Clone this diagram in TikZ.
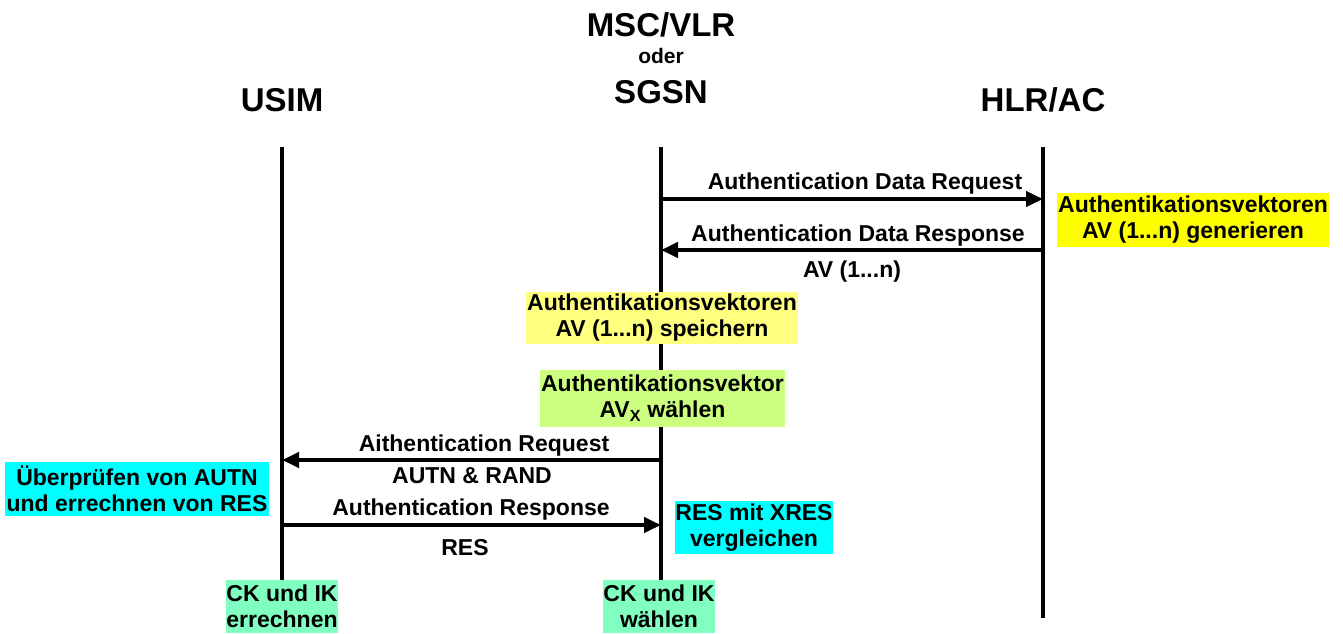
\documentclass[tikz,border=0pt]{standalone}
\usepackage{fontspec}
\setmainfont{Liberation Sans}
\usetikzlibrary{arrows.meta}
\definecolor{genyellow}{RGB}{255,255,0}
\definecolor{storeyellow}{RGB}{255,255,128}
\definecolor{selgreen}{RGB}{204,255,128}
\definecolor{boxcyan}{RGB}{0,255,255}
\definecolor{mint}{RGB}{128,255,192}
\begin{document}
\begin{tikzpicture}[x=1pt,y=-1pt,
  title/.style={font=\fontsize{33}{38}\selectfont\bfseries, inner sep=0pt, anchor=base},
  small/.style={font=\fontsize{21}{24}\selectfont\bfseries, inner sep=0pt, anchor=base},
  life/.style={line width=4.5pt},
  msg/.style={line width=4pt, -{Triangle[length=17pt,width=15pt]}},
  lbl/.style={font=\fontsize{23}{26}\selectfont\bfseries, inner sep=0pt, anchor=base},
  box/.style={font=\fontsize{23}{26}\selectfont\bfseries, align=center, inner sep=0pt}]
\useasboundingbox (0,0) rectangle (1343,633);

% entity headings
\node[title] (usim) at (282,111) {USIM};
\node[title] (msc) at (661,36) {MSC/VLR};
\node[small] (oder) at (661,63) {oder};
\node[title] (sgsn) at (661,103) {SGSN};
\node[title] (hlr) at (1043,111) {HLR/AC};

% lifelines
\coordinate (uTop) at (282,147);
\coordinate (uBot) at (282,580);
\coordinate (mTop) at (661,147);
\coordinate (mBot) at (661,580);
\coordinate (hTop) at (1043,147);
\coordinate (hBot) at (1043,618);
\draw[life] (uTop) -- (uBot);
\draw[life] (mTop) -- (mBot);
\draw[life] (hTop) -- (hBot);

% action boxes
\node[box, fill=genyellow, minimum width=272pt, minimum height=54pt] (gen) at (1193,220)
  {Authentikationsvektoren\\AV (1...n) generieren};
\node[box, fill=storeyellow, minimum width=272pt, minimum height=52pt] (store) at (662,318)
  {Authentikationsvektoren\\AV (1...n) speichern};
\node[box, fill=selgreen, minimum width=245pt, minimum height=57pt] (select) at (662.5,398)
  {Authentikationsvektor\\AV\textsubscript{X} wählen};
\node[box, fill=boxcyan, minimum width=264pt, minimum height=54pt] (check) at (137,489)
  {Überprüfen von AUTN\\und errechnen von RES};
\node[box, fill=boxcyan, minimum width=158pt, minimum height=53pt] (compare) at (754,527.5)
  {RES mit XRES\\vergleichen};
\node[box, fill=mint, minimum width=112pt, minimum height=53pt] (ckU) at (282,606.5)
  {CK und IK\\errechnen};
\node[box, fill=mint, minimum width=110pt, minimum height=53pt] (ckM) at (659,606.5)
  {CK und IK\\wählen};

% message end points
\coordinate (m1) at (661,199);  \coordinate (h1) at (1043,199);
\coordinate (h2) at (1043,250); \coordinate (m2) at (661,250);
\coordinate (m3) at (661,460);  \coordinate (u3) at (282,460);
\coordinate (u4) at (282,525);  \coordinate (m4) at (661,525);

% messages
\draw[msg] (m1) -- (h1);
\draw[msg] (h2) -- (m2);
\draw[msg] (m3) -- (u3);
\draw[msg] (u4) -- (m4);

% message labels
\node[lbl] (l1) at (865,189) {Authentication Data Request};
\node[lbl] (l2) at (858,241) {Authentication Data Response};
\node[lbl] (l2b) at (852,277) {AV (1...n)};
\node[lbl] (l3) at (484,451) {Aithentication Request};
\node[lbl] (l3b) at (472,483) {AUTN \& RAND};
\node[lbl] (l4) at (471,515) {Authentication Response};
\node[lbl] (l4b) at (465,555) {RES};
\end{tikzpicture}
\end{document}
